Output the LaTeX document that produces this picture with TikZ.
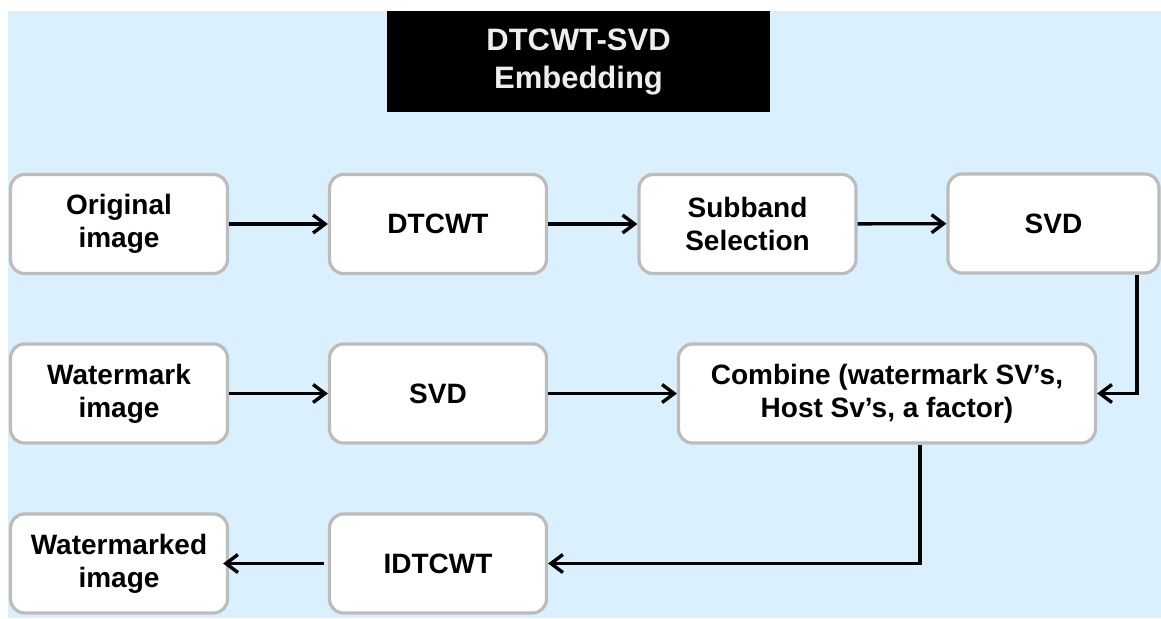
\documentclass[tikz,border=0pt]{standalone}
\usepackage{fontspec}
\setmainfont{Liberation Sans}
\usetikzlibrary{arrows.meta}

\definecolor{bgblue}{RGB}{218,240,254}
\definecolor{boxgray}{RGB}{188,188,188}
\definecolor{titletext}{RGB}{238,238,238}

\tikzset{
  stage/.style={draw=boxgray, line width=3.2pt, fill=white, rounded corners=14pt,
    align=center, inner sep=0pt, minimum width=217pt, minimum height=99pt,
    font=\bfseries\fontsize{28}{33}\selectfont},
  titlebox/.style={fill=black, text=titletext, align=center, inner sep=0pt,
    minimum width=383pt, minimum height=101pt,
    font=\bfseries\fontsize{31}{38}\selectfont},
  flow/.style={line width=3.4pt, -{Straight Barb[length=12pt,width=18pt,line width=3.4pt]}}
}

\begin{document}
\begin{tikzpicture}[x=1pt,y=-1pt]
\useasboundingbox (0,0) rectangle (1161,618);
% page background
\fill[bgblue] (8,11) rectangle (1161,618);

% heading
\node[titlebox] (title) at (578.5,61.5) {DTCWT-SVD\\Embedding};

% first row
\node[stage] (orig)    at (119,224)     {Original\\image};
\node[stage] (dtcwt)   at (438,224)     {DTCWT};
\node[stage] (subband) at (747.5,224)   {Subband\\Selection};
\node[stage, minimum width=211pt] (svdh) at (1053.5,223.5) {SVD};

% second row
\node[stage] (wm)      at (119,393.5)   {Watermark\\image};
\node[stage] (svdw)    at (438,393.5)   {SVD};
\node[stage, minimum width=417pt] (comb) at (887,393.5)
  {Combine (watermark SV’s,\\Host Sv’s, a factor)};

% third row
\node[stage] (wmd)     at (119,563.5)   {Watermarked\\image};
\node[stage] (idt)     at (438,563.5)   {IDTCWT};

% connectors
\draw[flow] (orig) -- (dtcwt);
\draw[flow] (dtcwt) -- (subband);
\draw[flow] (subband) -- (svdh);
\draw[flow] ([xshift=83.5pt]svdh.south) |- (comb.east);
\draw[flow] (wm) -- (svdw);
\draw[flow] (svdw) -- (comb);
\draw[flow] ([xshift=33pt]comb.south) |- (idt.east);
\draw[flow, shorten <=4pt, shorten >=-6pt] (idt) -- (wmd);
\end{tikzpicture}
\end{document}
